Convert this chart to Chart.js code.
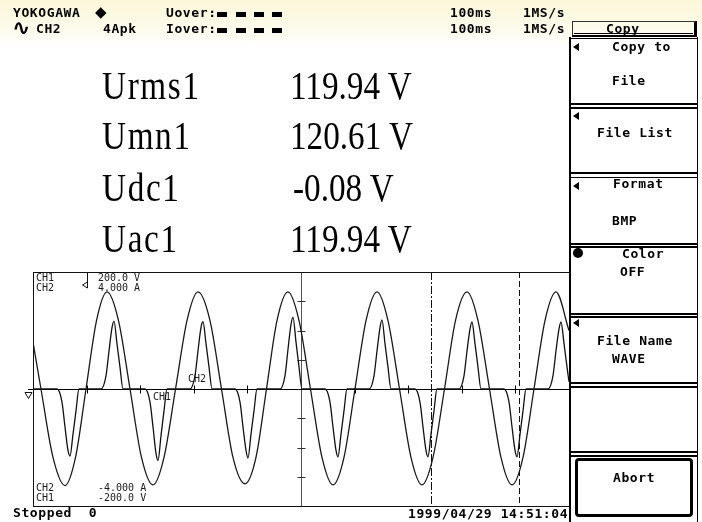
<!DOCTYPE html>
<html><head><meta charset="utf-8">
<script src="https://cdn.jsdelivr.net/npm/chart.js@4.4.0/dist/chart.umd.min.js"></script>
<style>
html,body{margin:0;padding:0;}
body{width:702px;height:522px;position:relative;overflow:hidden;background:linear-gradient(#fbf7d8 0px,#fdfbec 30px,#ffffff 46px);color:#000;}
#c{position:absolute;left:0;top:0;}
.t{position:absolute;white-space:pre;font:bold 13px/13px "DejaVu Sans Mono",monospace;letter-spacing:0.6px;color:#000;z-index:3;}
.s{position:absolute;white-space:pre;font:10px/10px "DejaVu Sans Mono",monospace;color:#1a1a1a;}
.m{position:absolute;white-space:pre;font:40px/40px "Liberation Serif",serif;transform:scaleX(0.83);transform-origin:0 0;color:#000;}
.ml{letter-spacing:2px;}
.dash{position:absolute;width:10px;height:5px;background:#000;}
.hl{position:absolute;left:571px;width:126px;background:#000;z-index:2;}
.tri{position:absolute;width:0;height:0;border-top:4.5px solid transparent;border-bottom:4.5px solid transparent;border-right:6px solid #000;z-index:3;}
</style></head><body>
<canvas id="c" width="702" height="522"></canvas>

<!-- header -->
<div class="t" style="left:13px;top:6px;">YOKOGAWA</div>
<div class="t" style="left:95px;top:6px;font-family:'DejaVu Sans';font-size:15px;">◆</div>
<div class="t" style="left:166px;top:6px;">Uover:</div>
<div class="dash" style="left:217px;top:12px;"></div><div class="dash" style="left:236px;top:12px;"></div><div class="dash" style="left:254px;top:12px;"></div><div class="dash" style="left:272px;top:12px;"></div>
<div class="t" style="left:450px;top:6px;">100ms</div>
<div class="t" style="left:523px;top:6px;">1MS/s</div>
<div class="t" style="left:12px;top:17px;font-family:'DejaVu Sans';font-size:22px;line-height:22px;">∿</div>
<div class="t" style="left:36px;top:22px;">CH2</div>
<div class="t" style="left:103px;top:22px;">4Apk</div>
<div class="t" style="left:166px;top:22px;">Iover:</div>
<div class="dash" style="left:217px;top:28px;"></div><div class="dash" style="left:236px;top:28px;"></div><div class="dash" style="left:254px;top:28px;"></div><div class="dash" style="left:272px;top:28px;"></div>
<div class="t" style="left:450px;top:22px;">100ms</div>
<div class="t" style="left:523px;top:22px;">1MS/s</div>

<!-- measurements -->
<div class="m ml" style="left:102px;top:66px;">Urms1</div>
<div class="m" style="left:290px;top:66px;">119.94 V</div>
<div class="m ml" style="left:102px;top:116px;">Umn1</div>
<div class="m" style="left:290px;top:116px;">120.61 V</div>
<div class="m ml" style="left:102px;top:168px;">Udc1</div>
<div class="m" style="left:293px;top:168px;">-0.08 V</div>
<div class="m ml" style="left:102px;top:219px;">Uac1</div>
<div class="m" style="left:290px;top:219px;">119.94 V</div>

<!-- graph labels -->
<div class="s" style="left:36px;top:273px;">CH1</div>
<div class="s" style="left:36px;top:283px;">CH2</div>
<div class="s" style="left:98px;top:273px;">200.0 V</div>
<div class="s" style="left:98px;top:283px;">4.000 A</div>
<div class="s" style="left:36px;top:483px;">CH2</div>
<div class="s" style="left:36px;top:493px;">CH1</div>
<div class="s" style="left:98px;top:483px;">-4.000 A</div>
<div class="s" style="left:98px;top:493px;">-200.0 V</div>
<div class="s" style="left:188px;top:374px;">CH2</div>
<div class="s" style="left:153px;top:392px;">CH1</div>

<!-- bottom -->
<div class="t" style="left:13px;top:506px;">Stopped  0</div>
<div class="t" style="left:408px;top:507px;">1999/04/29 14:51:04</div>

<!-- menu panel -->
<div style="position:absolute;left:569px;top:37px;width:126px;height:490px;border-left:2px solid #000;border-right:1.5px solid #000;background:#fff;z-index:1;"></div>
<div style="position:absolute;left:572px;top:21px;width:121px;height:13px;border-top:1px solid #333;border-left:1px solid #333;border-right:3px solid #000;border-bottom:2px solid #000;z-index:2;"></div>
<div class="hl" style="left:574px;width:119px;top:33px;height:1px;"></div>
<div class="t" style="left:606px;top:22px;">Copy</div>
<div class="hl" style="top:37.5px;height:1.5px;"></div>
<div class="hl" style="top:103px;height:2px;"></div><div class="hl" style="top:107px;height:1.5px;"></div>
<div class="hl" style="top:172px;height:2px;"></div><div class="hl" style="top:176.5px;height:1.5px;"></div>
<div class="hl" style="top:242.5px;height:2px;"></div><div class="hl" style="top:246px;height:1.5px;"></div>
<div class="hl" style="top:312.5px;height:2px;"></div><div class="hl" style="top:316px;height:1.5px;"></div>
<div class="hl" style="top:382px;height:2px;"></div><div class="hl" style="top:386px;height:1.5px;"></div>
<div class="hl" style="top:451px;height:2px;"></div><div class="hl" style="top:455px;height:1.5px;"></div>

<div class="tri" style="left:573px;top:43px;"></div>
<div class="t" style="left:612px;top:40px;">Copy to</div>
<div class="t" style="left:612px;top:74px;">File</div>
<div class="tri" style="left:573px;top:112px;"></div>
<div class="t" style="left:597px;top:126px;">File List</div>
<div class="tri" style="left:573px;top:182px;"></div>
<div class="t" style="left:613px;top:177px;">Format</div>
<div class="t" style="left:612px;top:214px;">BMP</div>
<div style="position:absolute;left:573px;top:248px;width:10px;height:10px;border-radius:50%;background:#000;z-index:3;"></div>
<div class="t" style="left:622px;top:247px;">Color</div>
<div class="t" style="left:620px;top:265px;">OFF</div>
<div class="tri" style="left:573px;top:319px;"></div>
<div class="t" style="left:597px;top:334px;">File Name</div>
<div class="t" style="left:612px;top:352px;">WAVE</div>
<div style="position:absolute;left:575px;top:458px;width:112px;height:53px;border:3px solid #000;border-radius:4px;background:#fff;z-index:2;"></div>
<div class="t" style="left:613px;top:471px;">Abort</div>

<script>
// ---- data (time in ms, 10 ms/div, 100 ms span) ----
const voltTimes = [0.0, 1.49, 3.73, 5.97, 7.93, 9.89, 11.85, 13.81, 15.95, 18.10, 20.24, 22.39, 24.44, 26.59, 28.73, 30.78, 33.02, 35.17, 37.31, 39.55, 41.60, 43.56, 45.52, 47.57, 49.63, 51.77, 53.92, 55.97, 58.02, 60.07, 62.13, 64.18, 66.23, 68.38, 70.52, 72.57, 74.63, 76.77, 78.82, 80.97, 83.02, 85.17, 87.31, 89.37, 91.42, 93.47, 95.52, 97.57, 100.0];
const voltValues = [80, 0, -117, -165, -117, 0, 117, 166, 117, 0, -117, -164, -117, 0, 117, 166, 117, 0, -117, -162, -117, 0, 117, 166, 117, 0, -117, -164, -117, 0, 117, 166, 117, 0, -117, -164, -117, 0, 117, 166, 117, 0, -117, -164, -117, 0, 117, 166, 100];

const currTimes = [0.00,
 4.48, 5.41, 5.97, 6.53, 6.90, 7.46, 8.02, 8.58,
 12.69, 13.62, 14.18, 14.74, 15.11, 15.67, 16.23, 16.79,
 20.90, 21.83, 22.39, 22.95, 23.32, 23.88, 24.44, 25.00,
 29.29, 30.22, 30.78, 31.34, 31.72, 32.28, 32.84, 33.40,
 37.69, 38.62, 39.18, 39.74, 40.11, 40.67, 41.23, 41.79,
 46.08, 47.01, 47.57, 48.13, 48.51, 49.07, 49.63, 50.19,
 54.48, 55.41, 55.97, 56.53, 56.90, 57.46, 58.02, 58.58,
 62.69, 63.62, 64.18, 64.74, 65.11, 65.67, 66.23, 66.79,
 71.27, 72.20, 72.76, 73.32, 73.69, 74.25, 74.81, 75.37,
 79.48, 80.41, 80.97, 81.53, 81.90, 82.46, 83.02, 83.58,
 87.87, 88.81, 89.37, 89.93, 90.30, 90.86, 91.42, 91.98,
 96.08, 97.01, 97.57, 98.13, 98.51, 99.07, 99.63, 100.0];
const currValues = [0,
 0, -0.45, -1.3, -2.1, -2.29, -1.55, -0.75, 0,
 0, 0.45, 1.3, 2.1, 2.32, 1.55, 0.75, 0,
 0, -0.45, -1.3, -2.2, -2.45, -1.6, -0.75, 0,
 0, 0.45, 1.3, 2.1, 2.30, 1.55, 0.75, 0,
 0, -0.45, -1.3, -2.1, -2.36, -1.55, -0.75, 0,
 0, 0.45, 1.35, 2.2, 2.46, 1.6, 0.75, 0,
 0, -0.45, -1.3, -2.1, -2.32, -1.55, -0.75, 0,
 0, 0.45, 1.3, 2.1, 2.36, 1.55, 0.75, 0,
 0, -0.45, -1.3, -2.1, -2.32, -1.55, -0.75, 0,
 0, 0.45, 1.3, 2.05, 2.29, 1.55, 0.75, 0,
 0, -0.45, -1.3, -2.1, -2.32, -1.55, -0.75, 0,
 0, 0.45, 1.3, 2.05, 2.29, 1.55, 0.75, 0.25];

const timeDivs = [10, 20, 30, 40, 60, 70, 80, 90];
const voltDivs = [-150, -100, -50, 50, 100, 150];
const cursorTimes = [74.2, 90.7];
const triggerTime = 10.1;

const scopePlugin = {
  id: 'scope',
  beforeDatasetsDraw(chart) {
    const {ctx, chartArea: a, scales: {x, y}} = chart;
    const px = v => Math.round(x.getPixelForValue(v)) + 0.5;
    const py = v => Math.round(y.getPixelForValue(v)) + 0.5;
    ctx.save();
    ctx.lineWidth = 1;
    ctx.strokeStyle = '#555';
    ctx.beginPath(); ctx.moveTo(px(50), a.top); ctx.lineTo(px(50), a.bottom); ctx.stroke();
    ctx.strokeStyle = '#333';
    voltDivs.forEach(v => { ctx.beginPath(); ctx.moveTo(px(50) - 4, py(v)); ctx.lineTo(px(50) + 4, py(v)); ctx.stroke(); });
    ctx.strokeStyle = '#000';
    ctx.beginPath(); ctx.moveTo(a.left - 5, py(0)); ctx.lineTo(a.right, py(0)); ctx.stroke();
    timeDivs.forEach(t => { ctx.beginPath(); ctx.moveTo(px(t), py(0) - 4); ctx.lineTo(px(t), py(0) + 4); ctx.stroke(); });
    ctx.strokeStyle = '#111';
    ctx.setLineDash([8, 2, 2, 2]);
    ctx.beginPath(); ctx.moveTo(px(cursorTimes[0]), a.top); ctx.lineTo(px(cursorTimes[0]), a.bottom); ctx.stroke();
    ctx.setLineDash([6, 3]);
    ctx.beginPath(); ctx.moveTo(px(cursorTimes[1]), a.top); ctx.lineTo(px(cursorTimes[1]), a.bottom); ctx.stroke();
    ctx.restore();
  },
  afterDatasetsDraw(chart) {
    const {ctx, chartArea: a, scales: {x, y}} = chart;
    ctx.save();
    ctx.lineWidth = 1;
    ctx.strokeStyle = '#111';
    ctx.strokeRect(a.left + 0.5, a.top + 0.5, a.right - a.left, a.bottom - a.top);
    const tx = Math.round(x.getPixelForValue(triggerTime)) + 0.5;
    ctx.beginPath(); ctx.moveTo(tx, a.top); ctx.lineTo(tx, a.top + 16); ctx.stroke();
    ctx.beginPath(); ctx.moveTo(tx, a.top + 10); ctx.lineTo(tx - 5, a.top + 13); ctx.lineTo(tx, a.top + 16); ctx.stroke();
    const gy = Math.round(y.getPixelForValue(0)) + 0.5;
    ctx.beginPath(); ctx.moveTo(a.left - 8, gy + 3); ctx.lineTo(a.left - 1, gy + 3); ctx.lineTo(a.left - 4.5, gy + 9); ctx.closePath(); ctx.stroke();
    ctx.restore();
  }
};

const toPts = (xs, ys) => xs.map((t, i) => ({x: t, y: ys[i]}));

new Chart(document.getElementById('c'), {
  type: 'line',
  data: {
    datasets: [
      {label: 'CH1', data: toPts(voltTimes, voltValues), yAxisID: 'y', borderColor: '#1a1a1a', borderWidth: 1.3, pointRadius: 0, cubicInterpolationMode: 'monotone', fill: false},
      {label: 'CH2', data: toPts(currTimes, currValues), yAxisID: 'y2', borderColor: '#111', borderWidth: 1.3, pointRadius: 0, cubicInterpolationMode: 'monotone', fill: false}
    ]
  },
  options: {
    responsive: false, animation: false, devicePixelRatio: 1,
    layout: {padding: {left: 33, top: 272, right: 133, bottom: 16}},
    plugins: {legend: {display: false}, tooltip: {enabled: false}},
    scales: {
      x: {type: 'linear', min: 0, max: 100, display: false},
      y: {min: -200, max: 200, display: false},
      y2: {min: -4, max: 4, display: false}
    }
  },
  plugins: [scopePlugin]
});
</script>
</body></html>
